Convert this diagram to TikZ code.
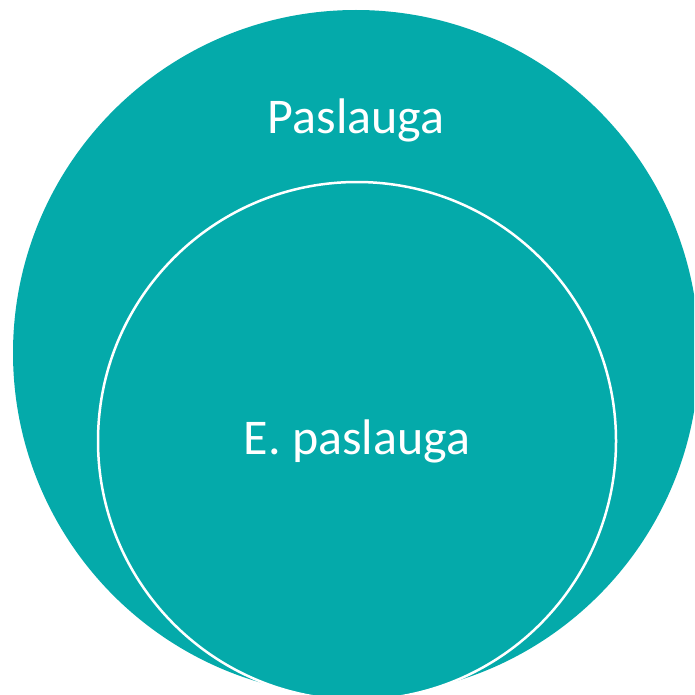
\documentclass[tikz,border=0pt]{standalone}
\usepackage{fontspec}
\setmainfont{Carlito}
\definecolor{tealfill}{RGB}{4,170,170}
\begin{document}
\begin{tikzpicture}[x=1pt,y=-1pt,
  outerdisc/.style={fill=tealfill},
  innerdisc/.style={fill=tealfill,draw=white,line width=2.5pt},
  label/.style={text=white,font=\fontsize{50}{58}\selectfont,anchor=base,inner sep=0pt}]
  \useasboundingbox (0,0) rectangle (694,695);
  \begin{scope}
    \clip (0,0) rectangle (694,695);
    \fill[outerdisc] (356,353) circle[radius=343];
    \path[innerdisc] (357,441) circle[radius=259];
  \end{scope}
  \node[label] (outer) at (356,134) {Paslauga};
  \node[label] (inner) at (357,454) {E. paslauga};
\end{tikzpicture}
\end{document}
